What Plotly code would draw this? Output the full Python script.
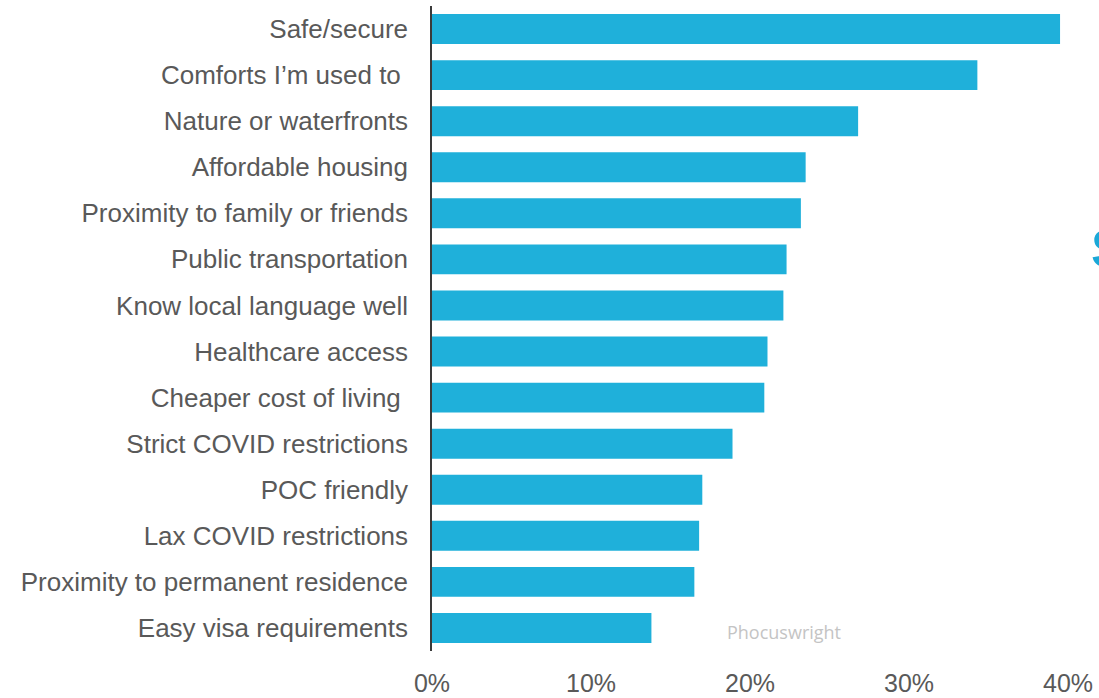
import plotly.graph_objects as go

# Share of respondents citing each factor (percent)
factors = [
    "Safe/secure",
    "Comforts I\u2019m used to ",
    "Nature or waterfronts",
    "Affordable housing",
    "Proximity to family or friends",
    "Public transportation",
    "Know local language well",
    "Healthcare access",
    "Cheaper cost of living ",
    "Strict COVID restrictions",
    "POC friendly",
    "Lax COVID restrictions",
    "Proximity to permanent residence",
    "Easy visa requirements",
]
shares = [39.5, 34.3, 26.8, 23.5, 23.2, 22.3, 22.1, 21.1, 20.9, 18.9, 17.0, 16.8, 16.5, 13.8]

tick_vals = [0, 10, 20, 30, 40]
tick_text = ["0%", "10%", "20%", "30%", "40%"]

BAR = "#1fb0da"
TEXT = "#595959"

fig = go.Figure(
    go.Bar(
        x=shares,
        y=factors,
        orientation="h",
        marker=dict(color=BAR, line=dict(width=0)),
        hoverinfo="x+y",
    )
)

fig.update_layout(
    width=1099,
    height=698,
    margin=dict(l=432, r=31, t=6, b=47, autoexpand=False),
    paper_bgcolor="white",
    plot_bgcolor="white",
    bargap=0.35,
    showlegend=False,
    font=dict(family="Liberation Sans, Arial, sans-serif", color=TEXT, size=25),
    xaxis=dict(
        range=[0, 40],
        tickvals=tick_vals,
        ticktext=tick_text,
        showgrid=False,
        zeroline=False,
        showline=False,
        ticks="",
        automargin=False,
        ticklabelstandoff=15,
        tickfont=dict(size=25, color=TEXT),
        fixedrange=True,
    ),
    yaxis=dict(
        autorange="reversed",
        showgrid=False,
        showline=True,
        linecolor="#3a3a3a",
        linewidth=1.5,
        ticks="",
        automargin=False,
        ticklabelstandoff=17,
        tickfont=dict(size=26, color=TEXT),
        fixedrange=True,
    ),
    annotations=[
        dict(
            text="Phocuswright",
            xref="paper", yref="paper",
            x=0.46, y=0.008,
            xanchor="left", yanchor="bottom",
            showarrow=False,
            font=dict(size=18, color="#c4c4c4", family="Open Sans, Liberation Sans, sans-serif"),
        ),
        dict(
            text="<b>S</b>",
            xref="paper", yref="paper",
            x=1.033, y=0.625,
            xanchor="left", yanchor="middle",
            showarrow=False,
            font=dict(size=54, color="#1ba8d8", family="Liberation Sans, Arial, sans-serif"),
        ),
    ],
)

fig.write_html("out.html")
